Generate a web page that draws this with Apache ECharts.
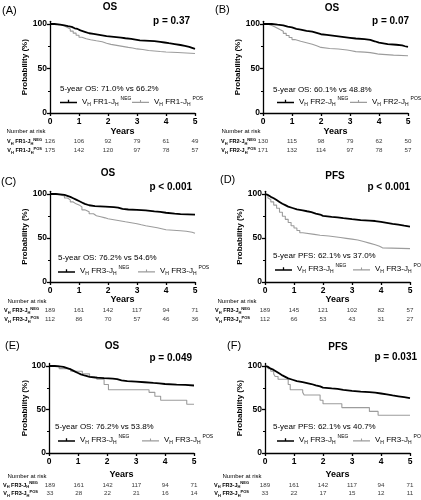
<!DOCTYPE html>
<html><head><meta charset="utf-8">
<script src="https://cdn.jsdelivr.net/npm/echarts@6/dist/echarts.min.js"></script>
<style>html,body{margin:0;padding:0;background:#fff}#c{width:421px;height:500px}</style>
</head><body><div id="c"></div>
<script>
// ---------- data ----------
const letters = ['(A)','(B)','(C)','(D)','(E)','(F)'];
const titles = ['OS','OS','OS','PFS','OS','PFS'];
const pValues = ['p = 0.37','p = 0.07','p < 0.001','p < 0.001','p = 0.049','p = 0.031'];
const fiveYear = ['5-year OS: 71.0% vs 66.2%','5-year OS: 60.1% vs 48.8%','5-year OS: 76.2% vs 54.6%',
  '5-year PFS: 62.1% vs 37.0%','5-year OS: 76.2% vs 53.8%','5-year PFS: 62.1% vs 40.7%'];
const regions = ['FR1','FR2','FR3','FR3','FR3','FR3'];
const yearTicks = [0,1,2,3,4,5];
const probTicks = [0,50,100];
const probMinorTicks = [25,75];

const A_NEG = [[0,100],[0.15,99.2],[0.35,98.4],[0.5,97.6],[0.62,96.8],[0.75,95.2],[0.85,94.4],[0.95,92.8],[1.05,91.2],[1.2,89.6],[1.35,88.8],[1.5,88],[1.65,87.2],[1.8,86.4],[1.95,85.6],[2.2,84.8],[2.45,84],[2.6,83.2],[2.8,82.4],[2.95,81.6],[3.1,80.8],[3.6,80],[3.8,79.2],[3.95,78.4],[4.1,77.4],[4.3,76.4],[4.5,75.4],[4.65,74.4],[4.8,73.2],[4.9,72],[5,71.5]];
const A_POS = [[0,100],[0.1,99.4],[0.25,98.9],[0.4,97.7],[0.5,96],[0.6,94.3],[0.7,92],[0.8,89.7],[0.9,87.4],[1.0,85.1],[1.1,83.4],[1.25,82.3],[1.4,81.1],[1.6,80],[1.8,78.3],[1.95,77.1],[2.1,76],[2.3,74.9],[2.5,73.7],[2.7,73.1],[2.85,72],[3.0,71.4],[3.2,70.3],[3.4,69.7],[3.6,69.1],[3.8,68.6],[4.0,68],[4.4,67.4],[4.7,66.8],[5,66.8]];
const B_NEG = [[0,100],[0.3,99.2],[0.5,98.5],[0.7,97],[0.85,96.2],[1.0,94.6],[1.15,93.8],[1.3,92.3],[1.5,91.5],[1.7,90],[1.85,88.5],[2.0,87.7],[2.2,86.9],[2.4,86.1],[2.6,85.3],[2.8,84.5],[3.0,83.7],[3.2,82.9],[3.5,82.1],[3.7,80.6],[3.85,79],[4.0,77.5],[4.3,76.7],[4.6,75.9],[4.8,75],[4.9,74.2],[5,74.2]];
const B_POS = [[0,100],[0.1,99.4],[0.2,98.2],[0.3,97],[0.4,95.3],[0.5,93.5],[0.6,91.8],[0.7,89.5],[0.8,87.1],[0.9,84.8],[1.0,82.5],[1.1,80.7],[1.3,79],[1.5,77.2],[1.7,75.5],[1.85,73.7],[2.0,72.5],[2.3,71.9],[2.6,70.8],[2.9,70.2],[3.0,69],[3.2,68.4],[3.5,67.8],[3.7,66.7],[3.9,66.1],[4.0,65],[4.5,64.4],[5,64.4]];
const C_NEG = [[0,100],[0.2,99.5],[0.35,98.9],[0.5,97.9],[0.6,96.8],[0.7,95.2],[0.8,93.6],[0.9,92],[1.0,90.4],[1.1,88.8],[1.2,87.2],[1.35,86.2],[1.55,85.6],[1.9,85.1],[2.2,84.6],[2.35,83],[2.5,82.4],[2.7,81.9],[3.0,81.4],[3.3,80.3],[3.6,79.8],[3.8,78.7],[4.0,77.7],[4.3,77.1],[4.5,76.6],[5,76.2]];
const C_POS = [[0,100],[0.2,99],[0.35,97.8],[0.5,95.5],[0.6,93.3],[0.7,91],[0.8,88.8],[0.9,87.6],[1.0,85.4],[1.1,82],[1.2,79.8],[1.35,77.5],[1.5,75.3],[1.6,74.1],[1.75,72.9],[1.9,71.8],[2.0,70.7],[2.2,69.6],[2.4,68.4],[2.6,67.3],[2.8,66.2],[3.0,65],[3.15,63.9],[3.3,62.8],[3.5,61.6],[3.7,60.5],[3.85,59.4],[4.0,58.2],[4.5,57.6],[4.7,56.5],[4.9,55.3],[5,55.3]];
const D_NEG = [[0,100],[0.05,99],[0.1,97.9],[0.15,96.8],[0.2,95.2],[0.3,93.1],[0.4,91],[0.5,88.9],[0.6,87.3],[0.7,85.7],[0.8,84.1],[0.95,82.5],[1.1,81.5],[1.3,80.4],[1.45,79.4],[1.6,77.8],[1.75,76.7],[1.9,75.1],[2.0,74.1],[2.3,73.5],[2.5,72.5],[2.7,71.4],[3.0,70.4],[3.3,69.8],[3.6,69.3],[3.8,68.3],[4.0,67.2],[4.2,66.1],[4.4,65.1],[4.6,64],[4.8,63],[5,62.5]];
const D_POS = [[0,100],[0.05,98.2],[0.1,95.5],[0.15,93.7],[0.2,91],[0.3,87.4],[0.4,83.8],[0.5,79.3],[0.6,74.8],[0.7,71.2],[0.8,67.6],[0.9,64],[1.0,61.3],[1.1,58.6],[1.2,55.9],[1.3,54.1],[1.7,53.2],[1.9,52.3],[2.2,51.4],[2.4,50.5],[2.6,49.6],[2.8,48.7],[3.0,47.8],[3.2,46],[3.4,44.2],[3.6,42.4],[3.8,40.6],[3.95,38.8],[4.05,37.9],[5,37.9]];
const E_NEG = [[0,100],[0.2,99.5],[0.35,98.9],[0.5,97.9],[0.6,96.8],[0.7,95.2],[0.8,93.6],[0.9,92],[1.0,90.4],[1.1,88.8],[1.25,87.6],[1.4,86.6],[1.6,86],[1.9,85.5],[2.2,85],[2.35,83.6],[2.5,82.6],[2.7,82],[3.0,81.3],[3.3,80.5],[3.6,80],[3.8,79.3],[4.0,78.6],[4.4,78.2],[4.7,77.6],[5,77.6]];
const E_POS = [[0,100],[0.35,97],[0.75,93.9],[1.15,90.9],[1.4,87.9],[1.65,84.8],[1.9,78.8],[2.05,72.7],[3.45,69.7],[3.65,65.2],[3.85,60.6],[4.75,56.1],[5,56.1]];
const F_NEG = [[0,100],[0.05,99],[0.1,98],[0.15,96.9],[0.2,95.5],[0.3,93.4],[0.4,91.3],[0.5,89.2],[0.6,87.5],[0.7,85.8],[0.8,84.2],[0.95,82.6],[1.1,81.5],[1.3,80.4],[1.45,79.3],[1.6,77.8],[1.75,76.6],[1.9,75.2],[2.0,74.2],[2.3,73.6],[2.5,72.6],[2.7,71.5],[3.0,70.5],[3.3,70],[3.6,69.4],[3.8,68.4],[4.0,67.3],[4.2,66.2],[4.4,65.2],[4.6,64.2],[4.8,63.2],[5,62.7]];
const F_POS = [[0,100],[0.1,97],[0.2,93.9],[0.3,90.9],[0.35,87.9],[0.45,84.8],[0.8,78.8],[0.87,72.7],[1.3,69.7],[1.35,66.7],[1.9,60.6],[2.0,56.6],[2.65,52.2],[3.6,47.8],[3.9,43.4],[5,43.4]];

const riskA_NEG = [126,106,92,79,61,49];
const riskA_POS = [175,142,120,97,78,57];
const riskB_NEG = [130,115,98,79,62,50];
const riskB_POS = [171,132,114,97,78,57];
const riskC_NEG = [189,161,142,117,94,71];
const riskC_POS = [112,86,70,57,46,36];
const riskD_NEG = [189,145,121,102,82,57];
const riskD_POS = [112,66,53,43,31,27];
const riskE_NEG = [189,161,142,117,94,71];
const riskE_POS = [33,28,22,21,16,14];
const riskF_NEG = [189,161,142,117,94,71];
const riskF_POS = [33,22,17,15,12,11];

const curvesNeg = [A_NEG,B_NEG,C_NEG,D_NEG,E_NEG,F_NEG];
const curvesPos = [A_POS,B_POS,C_POS,D_POS,E_POS,F_POS];
const risksNeg = [riskA_NEG,riskB_NEG,riskC_NEG,riskD_NEG,riskE_NEG,riskF_NEG];
const risksPos = [riskA_POS,riskB_POS,riskC_POS,riskD_POS,riskE_POS,riskF_POS];

// ---------- layout (pixels) ----------
const geo = [
 {x0:50, x1:195, y100:24, y0:113, r1:141.5, r2:150.5, nar:131.5, nx:26, lm:8, yn:25, yearsGap:14, title:[110,7], letter:[2,11], pR:190, pY:21, ann:[60,88.5], legN:[60,101.5], legP:[132,101.5]},
 {x0:263,x1:408, y100:24, y0:113, r1:141.5, r2:150.5, nar:131.5, nx:241, lm:7, yn:238, yearsGap:14, title:[332,8], letter:[215,10], pR:409, pY:21, ann:[273,89.5], legN:[277,101.5], legP:[350,101.5]},
 {x0:50, x1:195, y100:194,y0:282, r1:310.5, r2:319.5, nar:301, nx:27, lm:11, yn:25, yearsGap:13.5, title:[108,173], letter:[1,182], pR:192, pY:187, ann:[58,258], legN:[58,271], legP:[138,271]},
 {x0:265,x1:410, y100:194,y0:282, r1:310.5, r2:319.5, nar:301, nx:237, lm:15, yn:240, yearsGap:13.5, title:[335,176], letter:[220,180], pR:410, pY:187, ann:[273,255.5], legN:[275,269], legP:[353,269]},
 {x0:49, x1:194, y100:366,y0:453, r1:485, r2:493.5, nar:476, nx:27, lm:12, yn:25, yearsGap:17, title:[112,346], letter:[5,346], pR:192, pY:358, ann:[55,427], legN:[58,440], legP:[142,440]},
 {x0:265,x1:410, y100:366,y0:453, r1:485, r2:493.5, nar:476, nx:242, lm:16, yn:240, yearsGap:17, title:[338,347], letter:[227,346], pR:417, pY:357, ann:[273,427], legN:[277,440], legP:[353,440]}
];

const FONT = "'Liberation Sans', Arial, Helvetica, sans-serif";
const GRAY = '#9c9c9c';
const option = {animation:false, backgroundColor:'#fff', grid:[], xAxis:[], yAxis:[], series:[], legend:[], graphic:[]};

function txt(x, y, text, font, align, extra) {
  return Object.assign({type:'text', x:x, y:y, silent:true,
    style:{text:text, font:font, fill:'#000', textAlign:align, align:align, textVerticalAlign:'middle', verticalAlign:'middle'}}, extra||{});
}
const legRich = {
  v:{fontSize:8, fontFamily:FONT, color:'#000', lineHeight:11, verticalAlign:'middle'},
  s:{fontSize:5, fontFamily:FONT, color:'#000', verticalAlign:'bottom', lineHeight:5},
  p:{fontSize:5, fontFamily:FONT, color:'#000', verticalAlign:'top', lineHeight:5, padding:[0,0,0,2]}
};
const tblRich = {
  b:{fontSize:5.5, fontWeight:'bold', fontFamily:FONT, color:'#000', lineHeight:8, verticalAlign:'middle'},
  s:{fontSize:4, fontWeight:'bold', fontFamily:FONT, color:'#000', verticalAlign:'bottom', lineHeight:4},
  p:{fontSize:4, fontWeight:'bold', fontFamily:FONT, color:'#000', verticalAlign:'top', lineHeight:4}
};
const iconNeg = 'path://M0,2.3H16V3.7H0Z M7.4,0.6H8.6V3H7.4Z';
const iconPos = 'path://M0,2.5H16V3.5H0Z M7.5,0.8H8.5V3H7.5Z';

geo.forEach((g, i) => {
  const L = letters[i].charAt(1);
  const top = g.y100 - 3 * (g.y0 - g.y100) / 100;
  const gi = option.grid.length;
  option.grid.push({left:g.x0, top:top, width:g.x1 - g.x0, height:g.y0 - top});
  const rh = g.r2 - g.r1;
  const ti = option.grid.length;
  option.grid.push({left:g.x0, top:g.r1 - rh/2, width:g.x1 - g.x0, height:2*rh});

  const xi = option.xAxis.length;
  option.xAxis.push({gridIndex:gi, type:'value', min:0, max:5, interval:1,
    axisLine:{show:true, onZero:false, lineStyle:{color:'#000', width:1.3}},
    axisTick:{show:true, length:3, customValues:yearTicks, lineStyle:{color:'#000', width:1.3}},
    axisLabel:{color:'#000', fontWeight:'bold', fontSize:8.5, fontFamily:FONT, margin:4, customValues:yearTicks},
    splitLine:{show:false},
    name:'Years', nameLocation:'middle', nameGap:g.yearsGap, nameMoveOverlap:false,
    nameTextStyle:{color:'#000', fontWeight:'bold', fontSize:9, fontFamily:FONT, verticalAlign:'top'}});
  const txi = option.xAxis.length;
  option.xAxis.push({gridIndex:ti, type:'value', min:0, max:5, interval:1, show:false});

  const yi = option.yAxis.length;
  option.yAxis.push({gridIndex:gi, type:'value', min:0, max:103, interval:50, position:'left',
    axisLine:{show:true, lineStyle:{color:'#000', width:1.3}},
    axisTick:{show:true, length:3, customValues:probTicks, lineStyle:{color:'#000', width:1.3}},
    axisLabel:{color:'#000', fontWeight:'bold', fontSize:8.5, fontFamily:FONT, margin:3, customValues:probTicks},
    splitLine:{show:false}});
  option.yAxis.push({gridIndex:gi, type:'value', min:0, max:103, position:'left', offset:0,
    axisLine:{show:false}, axisLabel:{show:false}, splitLine:{show:false},
    axisTick:{show:true, length:2, customValues:probMinorTicks, lineStyle:{color:'#000', width:1.1}}});
  const tyi = option.yAxis.length;
  const rowLabel = sup => `{b|V}{s|H}{b| ${regions[i]}-J}{s|H}{p|${sup}}`;
  option.yAxis.push({gridIndex:ti, type:'category', data:['NEG','POS'], inverse:true,
    axisLine:{show:false}, axisTick:{show:false}, splitLine:{show:false},
    axisLabel:{margin:g.lm, interval:0, hideOverlap:false, formatter:v => rowLabel(v), rich:tblRich}});

  const nNeg = L + '_NEG', nPos = L + '_POS';
  option.series.push({type:'line', name:nPos, xAxisIndex:xi, yAxisIndex:yi, data:curvesPos[i], step:'end',
    symbol:'none', z:2, lineStyle:{color:GRAY, width:1.1}, itemStyle:{color:GRAY}});
  option.series.push({type:'line', name:nNeg, xAxisIndex:xi, yAxisIndex:yi, data:curvesNeg[i], step:'end',
    symbol:'none', z:3, lineStyle:{color:'#000', width:1.8}, itemStyle:{color:'#000'}});

  const tdata = [];
  yearTicks.forEach((t, k) => { tdata.push([t, 0, risksNeg[i][k]]); tdata.push([t, 1, risksPos[i][k]]); });
  option.series.push({type:'scatter', xAxisIndex:txi, yAxisIndex:tyi, data:tdata, symbolSize:1, silent:true,
    itemStyle:{color:'rgba(0,0,0,0)'},
    label:{show:true, position:'inside', formatter:p => String(p.value[2]), fontSize:6.2, fontFamily:FONT, color:'#000'}});

  const legText = name => {
    const sup = name.endsWith('NEG') ? 'NEG' : 'POS';
    return `{v|V}{s|H}{v| ${regions[i]}-J}{s|H}{p|${sup}}`;
  };
  [[nNeg, g.legN, iconNeg], [nPos, g.legP, iconPos]].forEach(([nm, pos, icon]) => {
    option.legend.push({data:[{name:nm, icon:icon}], left:pos[0], top:pos[1] - 5.5, padding:0,
      itemWidth:17, itemHeight:6, selectedMode:false, itemStyle:{borderWidth:0},
      formatter:legText, textStyle:{rich:legRich, color:'#000', fontSize:8, fontFamily:FONT}});
  });

  option.graphic.push(txt(g.title[0], g.title[1], titles[i], 'bold 10px ' + FONT, 'center'));
  option.graphic.push(txt(g.letter[0], g.letter[1], letters[i], '11px ' + FONT, 'left'));
  option.graphic.push(txt(g.pR, g.pY, pValues[i], 'bold 10px ' + FONT, 'right'));
  option.graphic.push(txt(g.ann[0], g.ann[1], fiveYear[i], '8px ' + FONT, 'left'));
  option.graphic.push(txt(g.nx, g.nar, 'Number at risk', '6px ' + FONT, 'center'));
  option.graphic.push(txt(g.yn, (top + g.y0) / 2, 'Probability (%)', 'bold 8px ' + FONT, 'center', {rotation: Math.PI / 2}));
});

const chart = echarts.init(document.getElementById('c'), null, {renderer:'canvas', width:421, height:500});
chart.setOption(option);
</script>
</body></html>
